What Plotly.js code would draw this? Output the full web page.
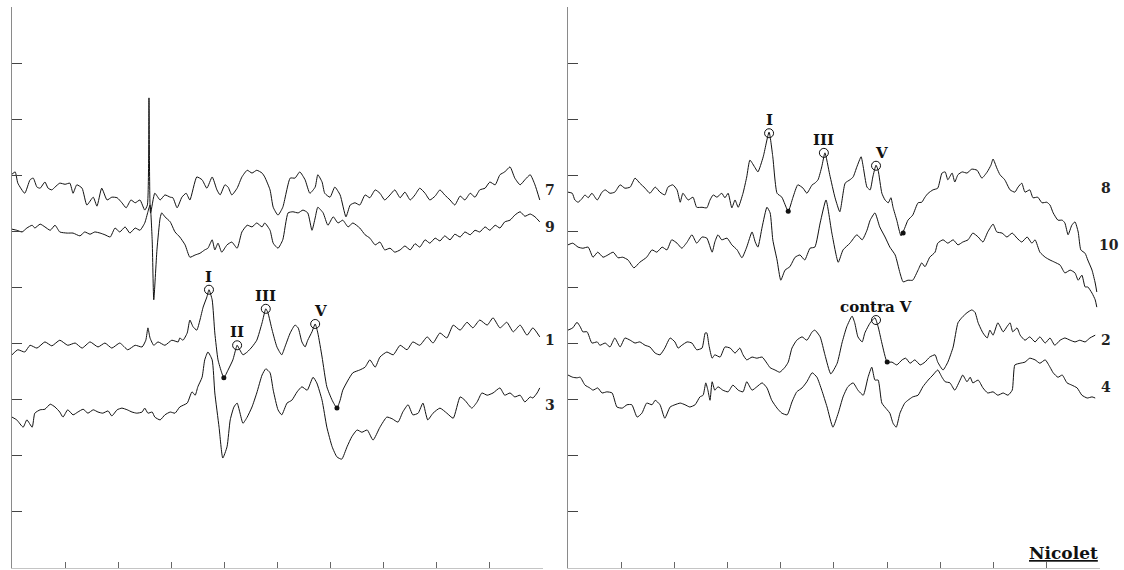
<!DOCTYPE html>
<html>
<head>
<meta charset="utf-8">
<script src="https://cdn.plot.ly/plotly-3.0.1.min.js"></script>
<style>html,body{margin:0;padding:0;background:#fff;}#chart{width:1124px;height:570px;}</style>
</head>
<body>
<div id="chart"></div>
<script>
// ---------- axis ticks ----------
const xTicks = [0,1,2,3,4,5,6,7,8,9,10];
const yTicks = [1,2,3,4,5,6,7,8,9];

// ---------- left panel (channels 7, 9, 1, 3) ----------
const t7 = [0,0.06,0.11,0.24,0.34,0.40,0.47,0.53,0.62,0.68,0.75,0.81,0.90,1.00,1.09,1.15,1.22,1.32,1.41,1.53,1.60,1.69,1.79,1.88,1.98,2.07,2.15,2.24,2.32,2.41,2.50,2.55,2.58,2.61,2.69,2.79,2.88,2.98,3.03,3.11,3.20,3.28,3.35,3.48,3.58,3.67,3.77,3.86,3.92,4.01,4.07,4.14,4.24,4.33,4.43,4.52,4.61,4.71,4.76,4.86,4.92,5.01,5.10,5.24,5.33,5.42,5.52,5.61,5.71,5.76,5.84,5.89,5.99,6.08,6.18,6.29,6.37,6.46,6.55,6.65,6.74,6.84,6.93,7.02,7.12,7.21,7.31,7.40,7.50,7.59,7.68,7.78,7.87,7.97,8.06,8.15,8.25,8.34,8.44,8.53,8.63,8.72,8.81,8.91,9.00,9.10,9.19,9.28,9.38,9.47,9.57,9.66,9.76,9.85,9.94];
const v7 = [7.02,7.06,6.86,6.68,6.92,6.95,6.79,6.77,6.88,6.77,6.74,6.79,6.86,6.84,6.86,6.68,6.83,6.77,6.47,6.61,6.45,6.77,6.56,6.61,6.60,6.51,6.42,6.56,6.51,6.56,6.38,6.47,8.38,6.33,6.68,6.56,6.65,6.61,6.60,6.42,6.61,6.68,6.56,6.97,6.92,6.77,6.97,6.74,6.65,6.83,6.79,6.65,6.77,6.97,7.09,7.04,7.09,7.04,6.97,6.74,6.43,6.29,6.43,6.95,6.95,7.06,6.92,6.68,6.79,7.01,6.88,6.68,6.61,6.79,6.65,6.26,6.47,6.51,6.47,6.65,6.60,6.74,6.68,6.56,6.65,6.74,6.60,6.70,6.56,6.65,6.77,6.68,6.56,6.63,6.74,6.65,6.56,6.47,6.63,6.56,6.68,6.61,6.74,6.77,6.88,6.83,7.01,7.06,7.15,6.95,6.83,6.92,7.01,6.83,6.56];

const t9 = [0,0.09,0.19,0.28,0.38,0.43,0.53,0.62,0.72,0.81,0.90,1.04,1.15,1.28,1.37,1.47,1.56,1.66,1.75,1.85,1.94,2.03,2.13,2.22,2.32,2.41,2.50,2.56,2.60,2.64,2.67,2.73,2.79,2.82,2.88,2.98,3.07,3.16,3.26,3.35,3.45,3.54,3.63,3.69,3.77,3.82,3.88,3.95,4.05,4.14,4.24,4.33,4.43,4.52,4.61,4.71,4.76,4.86,4.92,5.01,5.10,5.20,5.29,5.39,5.48,5.57,5.65,5.71,5.76,5.86,5.95,6.05,6.14,6.23,6.33,6.42,6.55,6.65,6.74,6.84,6.93,7.02,7.12,7.21,7.31,7.40,7.50,7.59,7.68,7.78,7.87,7.97,8.06,8.15,8.25,8.34,8.44,8.53,8.63,8.72,8.81,8.91,9.00,9.10,9.19,9.28,9.38,9.47,9.57,9.66,9.76,9.85,9.94];
const v9 = [6.04,6.02,5.99,6.06,6.11,6.06,6.13,6.08,6.02,6.11,5.99,5.97,5.97,5.92,5.99,5.95,5.99,5.97,5.94,5.90,6.06,5.99,6.08,5.97,6.06,6.02,6.15,6.35,6.47,5.85,4.78,5.67,6.24,6.33,6.26,6.17,5.99,5.90,5.76,5.54,5.58,5.61,5.67,5.70,5.85,5.67,5.79,5.63,5.76,5.81,5.70,5.99,6.11,6.08,6.15,6.08,6.15,6.02,5.79,5.70,5.85,6.33,6.35,6.33,6.38,6.33,6.02,6.24,6.43,6.33,6.11,6.26,6.15,6.20,6.08,6.15,6.06,5.94,5.88,5.76,5.81,5.67,5.70,5.63,5.67,5.74,5.67,5.78,5.72,5.85,5.79,5.88,5.83,5.92,5.85,5.95,5.90,5.99,5.94,6.02,5.99,6.08,6.02,6.11,6.06,6.17,6.20,6.29,6.35,6.27,6.31,6.26,6.17];

const t1 = [0,0.11,0.24,0.34,0.47,0.62,0.75,0.90,1.05,1.19,1.32,1.47,1.62,1.75,1.88,2.03,2.18,2.32,2.45,2.52,2.56,2.60,2.67,2.75,2.88,3.01,3.13,3.16,3.22,3.30,3.35,3.41,3.48,3.54,3.60,3.67,3.71,3.77,3.82,3.88,3.95,3.99,4.07,4.16,4.22,4.24,4.29,4.35,4.43,4.52,4.61,4.71,4.78,4.82,4.90,4.99,5.08,5.14,5.24,5.33,5.39,5.46,5.52,5.57,5.65,5.71,5.76,5.84,5.93,6.03,6.12,6.18,6.23,6.33,6.42,6.55,6.65,6.74,6.84,6.93,7.06,7.18,7.31,7.44,7.55,7.68,7.82,7.93,8.06,8.19,8.31,8.44,8.57,8.68,8.81,8.95,9.06,9.19,9.32,9.44,9.57,9.70,9.81,9.94];
const v1 = [3.80,3.89,3.85,3.97,3.92,4.03,3.96,4.06,3.97,4.01,3.92,4.03,3.94,4.01,3.92,4.01,3.89,3.97,3.94,4.06,4.28,4.10,3.97,4.03,3.97,4.06,4.03,4.10,4.06,4.19,4.42,4.30,4.24,4.42,4.65,4.83,4.96,4.78,4.19,3.71,3.48,3.39,3.53,3.71,3.92,3.97,3.89,3.80,3.85,3.94,4.06,4.37,4.62,4.55,4.24,3.94,3.80,3.94,4.19,4.33,4.28,4.03,3.94,4.06,4.21,4.35,4.19,3.76,3.23,2.99,2.85,2.99,3.17,3.35,3.48,3.53,3.58,3.71,3.58,3.76,3.85,3.80,3.97,3.89,4.03,3.97,4.12,4.01,4.19,4.10,4.33,4.24,4.38,4.28,4.42,4.33,4.46,4.28,4.38,4.21,4.33,4.15,4.28,4.12];

const t3 = [0,0.09,0.21,0.28,0.38,0.43,0.53,0.62,0.72,0.81,0.90,0.96,1.05,1.15,1.24,1.34,1.43,1.53,1.62,1.71,1.81,1.88,1.98,2.07,2.17,2.26,2.35,2.45,2.50,2.56,2.64,2.69,2.79,2.88,2.98,3.07,3.16,3.30,3.39,3.45,3.50,3.58,3.63,3.69,3.77,3.82,3.90,3.97,4.05,4.11,4.18,4.24,4.29,4.35,4.43,4.52,4.61,4.71,4.78,4.86,4.92,5.01,5.08,5.18,5.27,5.37,5.46,5.56,5.67,5.74,5.84,5.93,6.03,6.12,6.21,6.31,6.40,6.50,6.59,6.69,6.80,6.93,7.06,7.16,7.27,7.36,7.46,7.55,7.65,7.74,7.83,7.93,8.06,8.19,8.31,8.44,8.53,8.66,8.76,8.85,8.95,9.06,9.19,9.28,9.38,9.47,9.57,9.66,9.76,9.81,9.89,9.94];
const v3 = [2.69,2.64,2.51,2.64,2.51,2.76,2.82,2.83,2.92,2.87,2.78,2.69,2.82,2.73,2.78,2.83,2.76,2.82,2.78,2.76,2.80,2.71,2.82,2.85,2.82,2.78,2.76,2.78,2.85,2.76,2.78,2.69,2.64,2.73,2.78,2.76,2.87,2.94,3.14,3.08,3.23,3.40,3.71,3.85,3.71,3.12,2.51,1.96,2.16,2.64,2.87,2.94,2.78,2.58,2.69,2.87,3.12,3.44,3.55,3.48,3.17,2.82,2.73,2.94,2.99,3.14,3.23,3.17,3.40,3.30,2.99,2.51,2.16,1.98,1.94,2.16,2.34,2.46,2.42,2.46,2.28,2.51,2.69,2.66,2.60,2.78,2.91,2.73,2.76,2.94,2.64,2.76,2.85,2.76,2.67,3.05,2.99,2.85,2.96,3.12,3.08,3.12,3.21,3.08,3.12,3.05,3.08,2.96,3.05,3.03,3.12,3.21];

// ---------- right panel (channels 8, 10, 2, 4) ----------
const t8 = [0,0.08,0.13,0.19,0.26,0.32,0.38,0.45,0.55,0.64,0.70,0.79,0.88,0.98,1.07,1.17,1.26,1.35,1.45,1.54,1.64,1.73,1.82,1.88,1.97,2.05,2.11,2.16,2.26,2.35,2.42,2.52,2.61,2.67,2.73,2.80,2.89,2.95,3.01,3.08,3.14,3.20,3.29,3.36,3.42,3.52,3.57,3.67,3.78,3.85,3.93,4.02,4.14,4.23,4.32,4.42,4.49,4.59,4.64,4.70,4.77,4.83,4.92,5.02,5.11,5.21,5.30,5.36,5.43,5.51,5.55,5.62,5.68,5.73,5.79,5.83,5.90,5.96,6.02,6.07,6.11,6.18,6.26,6.33,6.39,6.48,6.58,6.65,6.71,6.77,6.86,6.95,7.03,7.09,7.14,7.22,7.27,7.33,7.41,7.50,7.59,7.69,7.78,7.88,7.95,7.99,8.06,8.12,8.21,8.31,8.40,8.46,8.53,8.59,8.68,8.74,8.83,8.91,9.00,9.06,9.12,9.21,9.29,9.34,9.40,9.47,9.53,9.59,9.64,9.72,9.77,9.85,9.91,9.94];
const v8 = [6.70,6.68,6.56,6.52,6.58,6.65,6.60,6.68,6.56,6.70,6.74,6.68,6.70,6.83,6.77,6.79,6.95,6.86,6.77,6.68,6.79,6.70,6.65,6.79,6.83,6.74,6.52,6.68,6.56,6.61,6.43,6.43,6.42,6.56,6.65,6.61,6.68,6.60,6.68,6.42,6.56,6.43,6.68,6.97,7.27,7.13,7.06,7.33,7.77,7.33,6.68,6.61,6.36,6.61,6.83,6.77,6.68,6.83,6.86,6.92,7.15,7.40,7.01,6.60,6.35,6.86,6.92,6.97,7.15,7.33,7.15,6.79,6.74,6.97,7.18,7.09,6.68,6.56,6.51,6.60,6.43,6.20,5.92,6.06,6.20,6.29,6.51,6.52,6.61,6.68,6.74,6.77,7.04,7.06,6.92,7.04,6.88,7.01,7.06,7.04,7.11,7.09,6.95,7.06,7.18,7.29,7.13,7.01,6.92,6.74,6.70,6.79,6.86,6.70,6.74,6.60,6.61,6.51,6.52,6.47,6.33,6.20,6.20,6.15,5.94,6.11,6.17,5.99,5.67,5.61,5.49,5.31,5.08,4.92];

const t10 = [0,0.09,0.19,0.28,0.38,0.47,0.56,0.66,0.75,0.85,0.94,1.03,1.13,1.24,1.35,1.48,1.58,1.67,1.77,1.86,1.95,2.05,2.14,2.24,2.33,2.42,2.52,2.61,2.71,2.76,2.82,2.89,2.99,3.08,3.18,3.27,3.36,3.46,3.52,3.57,3.65,3.74,3.80,3.85,3.93,4.00,4.08,4.17,4.27,4.36,4.45,4.55,4.64,4.74,4.85,4.96,5.08,5.17,5.30,5.43,5.53,5.62,5.68,5.77,5.86,5.96,6.05,6.15,6.24,6.30,6.39,6.48,6.58,6.65,6.71,6.80,6.90,6.95,7.05,7.14,7.24,7.33,7.42,7.52,7.61,7.71,7.80,7.89,7.99,8.06,8.16,8.25,8.35,8.44,8.53,8.63,8.72,8.78,8.87,8.97,9.06,9.15,9.25,9.34,9.44,9.53,9.59,9.66,9.72,9.77,9.85,9.91,9.94];
const v10 = [5.76,5.79,5.72,5.70,5.72,5.54,5.63,5.54,5.58,5.63,5.53,5.54,5.49,5.35,5.45,5.54,5.67,5.63,5.72,5.67,5.85,5.79,5.70,5.81,5.94,5.79,5.90,5.88,5.63,5.81,5.94,5.85,5.88,5.76,5.67,5.53,5.72,5.99,5.81,5.72,6.08,6.43,6.33,5.85,5.49,5.13,5.31,5.37,5.54,5.58,5.49,5.70,5.72,6.15,6.56,5.97,5.45,5.67,5.79,5.94,5.85,6.02,6.20,6.33,6.08,5.90,5.72,5.58,5.26,5.10,5.13,5.13,5.31,5.44,5.37,5.54,5.63,5.79,5.85,5.79,5.85,5.76,5.81,5.85,5.97,5.90,5.81,5.99,6.13,5.99,5.97,5.90,5.97,5.88,5.81,5.90,5.79,5.85,5.63,5.54,5.49,5.45,5.40,5.26,5.31,5.26,5.13,5.22,5.01,5.01,4.90,4.78,4.65];

const t2 = [0,0.09,0.17,0.23,0.28,0.36,0.45,0.55,0.60,0.70,0.79,0.88,0.98,1.07,1.17,1.26,1.35,1.45,1.54,1.64,1.73,1.82,1.92,2.01,2.07,2.14,2.24,2.33,2.42,2.52,2.58,2.61,2.65,2.71,2.76,2.86,2.95,3.05,3.14,3.23,3.29,3.36,3.46,3.55,3.65,3.74,3.80,3.89,3.98,4.08,4.14,4.21,4.30,4.40,4.49,4.59,4.64,4.74,4.83,4.94,5.06,5.15,5.24,5.34,5.39,5.45,5.53,5.58,5.68,5.77,5.83,5.90,6.00,6.09,6.18,6.28,6.35,6.43,6.52,6.62,6.71,6.80,6.90,6.95,7.05,7.14,7.24,7.33,7.41,7.50,7.59,7.65,7.71,7.80,7.88,7.93,7.99,8.08,8.18,8.25,8.31,8.36,8.44,8.50,8.59,8.68,8.78,8.87,8.97,9.06,9.15,9.25,9.34,9.44,9.53,9.62,9.72,9.81,9.91];
const v2 = [4.24,4.28,4.38,4.30,4.21,4.21,4.01,4.03,3.97,4.01,3.94,4.10,3.94,4.10,4.06,4.01,4.03,3.97,3.94,3.83,3.80,3.92,4.10,4.03,3.92,3.97,4.03,4.01,3.89,3.92,4.19,4.19,3.97,3.74,3.80,3.76,3.94,3.92,3.83,3.92,3.80,3.71,3.76,3.74,3.76,3.65,3.57,3.53,3.49,3.58,3.67,3.92,4.06,4.12,4.06,4.21,4.24,4.12,3.80,3.46,3.65,4.01,4.30,4.49,4.37,4.12,4.03,4.19,4.37,4.46,4.30,4.01,3.67,3.67,3.62,3.71,3.74,3.65,3.71,3.62,3.67,3.76,3.80,3.67,3.53,3.67,3.94,4.37,4.47,4.55,4.60,4.56,4.37,4.19,4.10,4.24,4.15,4.37,4.21,4.30,4.37,4.21,4.28,4.15,4.06,4.12,4.03,4.12,4.01,4.10,3.97,4.06,4.10,4.06,4.03,4.06,4.03,4.10,4.15];

const t4 = [0,0.09,0.17,0.23,0.32,0.41,0.47,0.56,0.64,0.73,0.83,0.92,1.02,1.11,1.20,1.30,1.39,1.48,1.58,1.64,1.73,1.82,1.92,2.01,2.11,2.20,2.29,2.39,2.48,2.54,2.59,2.63,2.67,2.71,2.76,2.82,2.91,3.01,3.10,3.20,3.29,3.36,3.46,3.55,3.65,3.74,3.83,3.93,4.02,4.12,4.21,4.30,4.40,4.49,4.59,4.68,4.77,4.87,4.98,5.08,5.17,5.26,5.36,5.45,5.55,5.64,5.71,5.77,5.83,5.90,6.00,6.05,6.11,6.17,6.24,6.33,6.39,6.48,6.58,6.67,6.77,6.86,6.95,7.03,7.09,7.18,7.27,7.37,7.42,7.50,7.56,7.61,7.71,7.80,7.89,7.99,8.08,8.18,8.27,8.35,8.40,8.50,8.59,8.68,8.78,8.87,8.97,9.06,9.12,9.21,9.29,9.38,9.47,9.57,9.66,9.76,9.85,9.91];
const v4 = [3.44,3.40,3.39,3.40,3.26,3.21,3.17,3.21,3.12,3.14,3.12,2.87,2.85,2.91,2.91,2.69,2.76,2.94,2.91,2.99,2.91,2.67,2.87,2.91,2.94,2.91,2.87,2.91,3.05,3.08,3.30,3.17,2.99,3.32,3.17,3.23,3.17,3.14,3.26,3.17,3.14,3.32,3.17,3.23,3.30,3.21,2.99,2.85,2.76,2.73,2.96,3.14,3.21,3.32,3.48,3.40,3.17,2.87,2.51,2.76,3.05,3.23,3.30,3.17,3.08,3.40,3.58,3.35,3.35,2.94,2.82,2.76,2.58,2.51,2.76,2.94,2.99,3.05,3.08,3.23,3.35,3.44,3.53,3.40,3.32,3.30,3.17,3.35,3.44,3.32,3.40,3.30,3.35,3.21,3.12,3.14,3.08,3.12,3.08,3.17,3.62,3.65,3.67,3.74,3.71,3.65,3.71,3.58,3.48,3.40,3.44,3.30,3.26,3.21,3.08,3.03,3.05,3.03];

// ---------- channel labels ----------
const leftIds = ['7','9','1','3'];
const leftLevels = [6.74, 6.08, 4.06, 2.91];
const rightIds = ['8','10','2','4'];
const rightLevels = [6.77, 5.76, 4.06, 3.23];

// ---------- marked peaks ----------
const leftPeakNames = ['I','II','III','V'];
const leftPeakLat = [3.71, 4.24, 4.78, 5.71];
const leftPeakAmp = [4.96, 3.97, 4.62, 4.35];
const leftTroughLat = [3.99, 6.12];
const leftTroughAmp = [3.39, 2.85];

const rightPeakNames = ['I','III','V'];
const rightPeakLat = [3.78, 4.81, 5.79];
const rightPeakAmp = [7.75, 7.40, 7.17];
const rightTroughLat = [4.14, 6.30];
const rightTroughAmp = [6.36, 5.97];

const contraNames = ['contra V'];
const contraLat = [5.79];
const contraAmp = [4.42];
const contraTroughLat = [6.00];
const contraTroughAmp = [3.67];

const brand = 'Nicolet';

// ---------- build ----------
const INK = '#111';
const serif = 'DejaVu Serif, Liberation Serif, serif';

function wave(x, y, xa, ya) {
  return {x: x, y: y, xaxis: xa, yaxis: ya, type: 'scatter', mode: 'lines',
    line: {color: INK, width: 1, shape: 'spline', smoothing: 0.5},
    hoverinfo: 'skip', showlegend: false};
}
function rings(x, y, xa, ya) {
  return {x: x, y: y, xaxis: xa, yaxis: ya, type: 'scatter', mode: 'markers',
    marker: {symbol: 'circle-open', size: 9, color: INK, line: {width: 1, color: INK}},
    hoverinfo: 'skip', showlegend: false, cliponaxis: false};
}
function dots(x, y, xa, ya) {
  return {x: x, y: y, xaxis: xa, yaxis: ya, type: 'scatter', mode: 'markers',
    marker: {symbol: 'circle', size: 5, color: INK},
    hoverinfo: 'skip', showlegend: false};
}

const traces = [
  wave(t7, v7, 'x', 'y'), wave(t9, v9, 'x', 'y'), wave(t1, v1, 'x', 'y'), wave(t3, v3, 'x', 'y'),
  wave(t8, v8, 'x2', 'y2'), wave(t10, v10, 'x2', 'y2'), wave(t2, v2, 'x2', 'y2'), wave(t4, v4, 'x2', 'y2'),
  rings(leftPeakLat, leftPeakAmp, 'x', 'y'), dots(leftTroughLat, leftTroughAmp, 'x', 'y'),
  rings(rightPeakLat, rightPeakAmp, 'x2', 'y2'), dots(rightTroughLat, rightTroughAmp, 'x2', 'y2'),
  rings(contraLat, contraAmp, 'x2', 'y2'), dots(contraTroughLat, contraTroughAmp, 'x2', 'y2')
];

const annotations = [];
function chanLabels(ids, levels, xr, yr, shift) {
  ids.forEach((id, i) => annotations.push({
    x: 10, y: levels[i], xref: xr, yref: yr, text: id, showarrow: false,
    xanchor: 'center', yanchor: 'middle', xshift: shift + (id.length > 1 ? 3 : 0),
    font: {family: serif, size: 14, color: '#222', weight: 'bold'}
  }));
}
chanLabels(leftIds, leftLevels, 'x', 'y', 7);
chanLabels(rightIds, rightLevels, 'x2', 'y2', 6);

function peakLabels(names, lat, amp, xr, yr, size) {
  names.forEach((n, i) => annotations.push({
    x: lat[i], y: amp[i], xref: xr, yref: yr, text: n, showarrow: false,
    xanchor: 'center', yanchor: 'bottom', yshift: 2, xshift: (n === 'V' ? 5 : 0),
    font: {family: serif, size: size, color: INK, weight: 'bold'}
  }));
}
peakLabels(leftPeakNames, leftPeakLat, leftPeakAmp, 'x', 'y', 15);
peakLabels(rightPeakNames, rightPeakLat, rightPeakAmp, 'x2', 'y2', 15);
peakLabels(contraNames, contraLat, contraAmp, 'x2', 'y2', 15);

annotations.push({
  x: 1, y: 0, xref: 'paper', yref: 'paper', text: '<u>' + brand + '</u>', showarrow: false,
  xanchor: 'right', yanchor: 'bottom', xshift: 0, yshift: 3,
  font: {family: serif, size: 17, color: INK, weight: 'bold'}
});

function xAxis(domain, anchor) {
  return {domain: domain, anchor: anchor, range: [0, 10], tickvals: xTicks, ticks: 'inside',
    ticklen: 6, tickwidth: 1, tickcolor: '#666', showticklabels: false, showline: true,
    linecolor: '#c4c4c4', linewidth: 1, showgrid: false, zeroline: false, fixedrange: true};
}
function yAxis(anchor) {
  return {domain: [0, 1], anchor: anchor, range: [0, 10], tickvals: yTicks, ticks: 'inside',
    ticklen: 10, tickwidth: 1, tickcolor: '#444', showticklabels: false, showline: true,
    linecolor: '#8a8a8a', linewidth: 1, showgrid: false, zeroline: false, fixedrange: true};
}

const layout = {
  width: 1124, height: 570,
  margin: {l: 12, r: 24, t: 7, b: 2, pad: 0},
  paper_bgcolor: '#ffffff', plot_bgcolor: '#ffffff',
  showlegend: false, hovermode: false,
  xaxis: xAxis([0, 0.488], 'y'),
  yaxis: yAxis('x'),
  xaxis2: xAxis([0.511, 1], 'y2'),
  yaxis2: yAxis('x2'),
  annotations: annotations
};

Plotly.newPlot('chart', traces, layout, {staticPlot: true, displayModeBar: false});
</script>
</body>
</html>
